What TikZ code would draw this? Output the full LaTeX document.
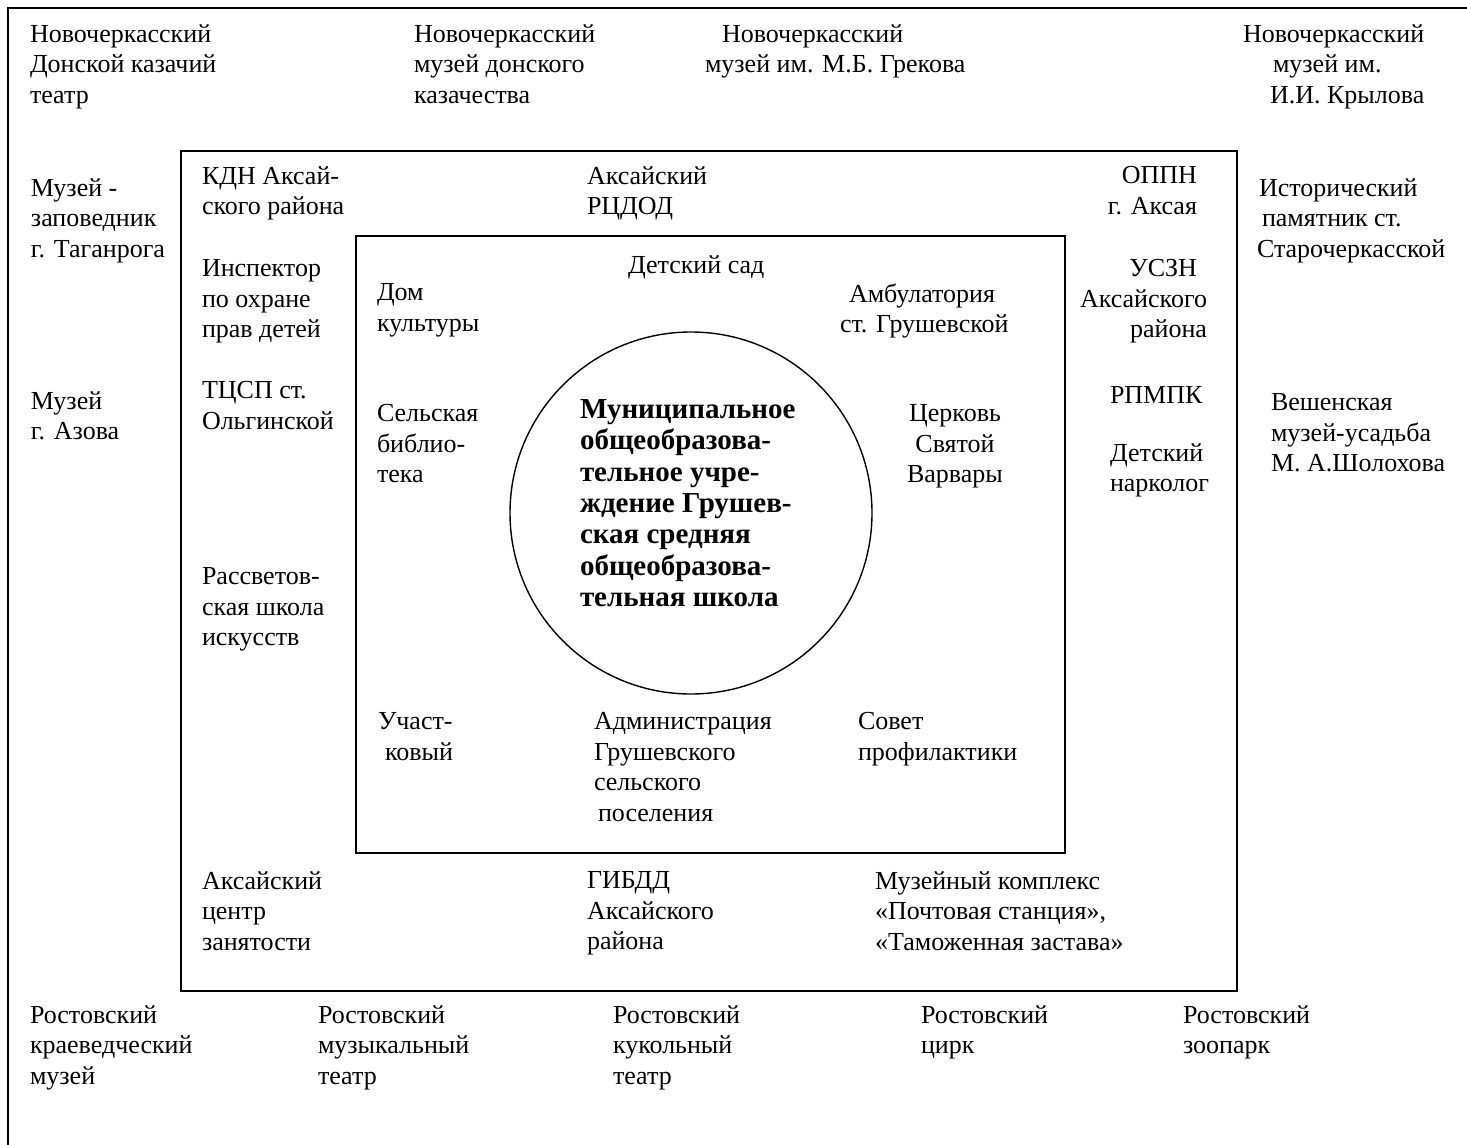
\documentclass[tikz,border=0pt]{standalone}
\usepackage{fontspec}
\setmainfont{Liberation Serif}
\tikzset{
  txt/.style={inner sep=0pt, outer sep=0pt, yshift=9.175pt,
    font=\fontsize{13}{15.25}\selectfont, execute at begin node=\strut},
  L/.style={txt, anchor=north west, align=left},
  R/.style={txt, anchor=north east, align=right},
  C/.style={txt, anchor=north, align=center},
  frame/.style={draw=black, line width=1pt},
}
\begin{document}
\begin{tikzpicture}[x=0.5pt,y=-0.5pt]
\useasboundingbox (0,0) rectangle (1467,1145);
% outer frame (top and left edges)
\coordinate (fTR) at (1467,8);
\coordinate (fTL) at (8,8);
\coordinate (fBL) at (8,1145);
\draw[frame] (fTR) -- (fTL) -- (fBL);
% rectangles
\draw[frame] (181,151) rectangle (1237,991);
\draw[frame] (356,236) rectangle (1065,853);
\node[circle, draw, line width=0.7pt, minimum size=181pt, inner sep=0pt] (school) at (691,513) {};
\node[L, font=\fontsize{14.5}{15.65}\selectfont\bfseries] (schooltxt) at (580,418)
  {Муниципальное\\общеобразова-\\тельное учре-\\ждение Грушев-\\ская средняя\\общеобразова-\\тельная школа};

% top row
\node[L] (n1) at (30,43) {Новочеркасский\\Донской казачий\\театр};
\node[L] (n2) at (414,43) {Новочеркасский\\музей донского\\казачества};
\node[L] (n3) at (705,43) {\hspace*{8.5pt}Новочеркасский\\музей им. М.Б. Грекова};
\node[L] (n4) at (1243,43) {Новочеркасский\\\hspace*{15pt}музей им.\\\hspace*{13.5pt}И.И. Крылова};

% left outside
\node[L] (m1) at (31,197) {Музей -\\заповедник\\г. Таганрога};
\node[L] (m2) at (31,410) {Музей\\г. Азова};

% right outside
\node[L] (h1) at (1257,197) {\hspace*{1pt}Исторический\\\hspace*{2.5pt}памятник ст.\\Старочеркасской};
\node[L] (h2) at (1271,412) {Вешенская\\музей-усадьба\\М. А.Шолохова};

% left inside outer rectangle
\node[L] (k1) at (202,185) {КДН Аксай-\\ского района};
\node[L] (k2) at (202,278) {Инспектор\\по охране\\прав детей};
\node[L] (k3) at (202,400) {ТЦСП ст.\\Ольгинской};
\node[L] (k4) at (202,586) {Рассветов-\\ская школа\\искусств};
\node[L] (k5) at (202,890) {Аксайский\\центр\\занятости};

% top inside
\node[L] (a1) at (587,185) {Аксайский\\РЦДОД};
\node[R] (a2) at (1197,185) {ОППН\\г. Аксая};

% right inside
\node[R] (u1) at (1207,278) {УСЗН\hspace*{5pt}\\Аксайского\\района};
\node[L] (u2) at (1110,400) {РПМПК};
\node[L] (u3) at (1110,462) {Детский\\нарколог};

% bottom inside
\node[L] (g1) at (587,890) {ГИБДД\\Аксайского\\района};
\node[L] (g2) at (875,890) {Музейный комплекс\\«Почтовая станция»,\\«Таможенная застава»};

% inner rectangle contents
\node[L] (d1) at (628,270) {Детский сад};
\node[L] (d2) at (377,302) {Дом\\культуры};
\node[L] (d3) at (840,302) {\hspace*{4.5pt}Амбулатория\\ст. Грушевской};
\node[L] (d4) at (377,423) {Сельская\\библио-\\тека};
\node[C] (d5) at (955,423) {Церковь\\Святой\\Варвары};
\node[L] (d6) at (378,731) {Участ-\\\hspace*{3.5pt}ковый};
\node[L] (d7) at (594,731) {Администрация\\Грушевского\\сельского\\\hspace*{2pt}поселения};
\node[L] (d8) at (858,731) {Совет\\профилактики};

% bottom row
\node[L] (r1) at (30,1024) {Ростовский\\краеведческий\\музей};
\node[L] (r2) at (318,1024) {Ростовский\\музыкальный\\театр};
\node[L] (r3) at (613,1024) {Ростовский\\кукольный\\театр};
\node[L] (r4) at (921,1024) {Ростовский\\цирк};
\node[L] (r5) at (1183,1024) {Ростовский\\зоопарк};
\end{tikzpicture}
\end{document}
